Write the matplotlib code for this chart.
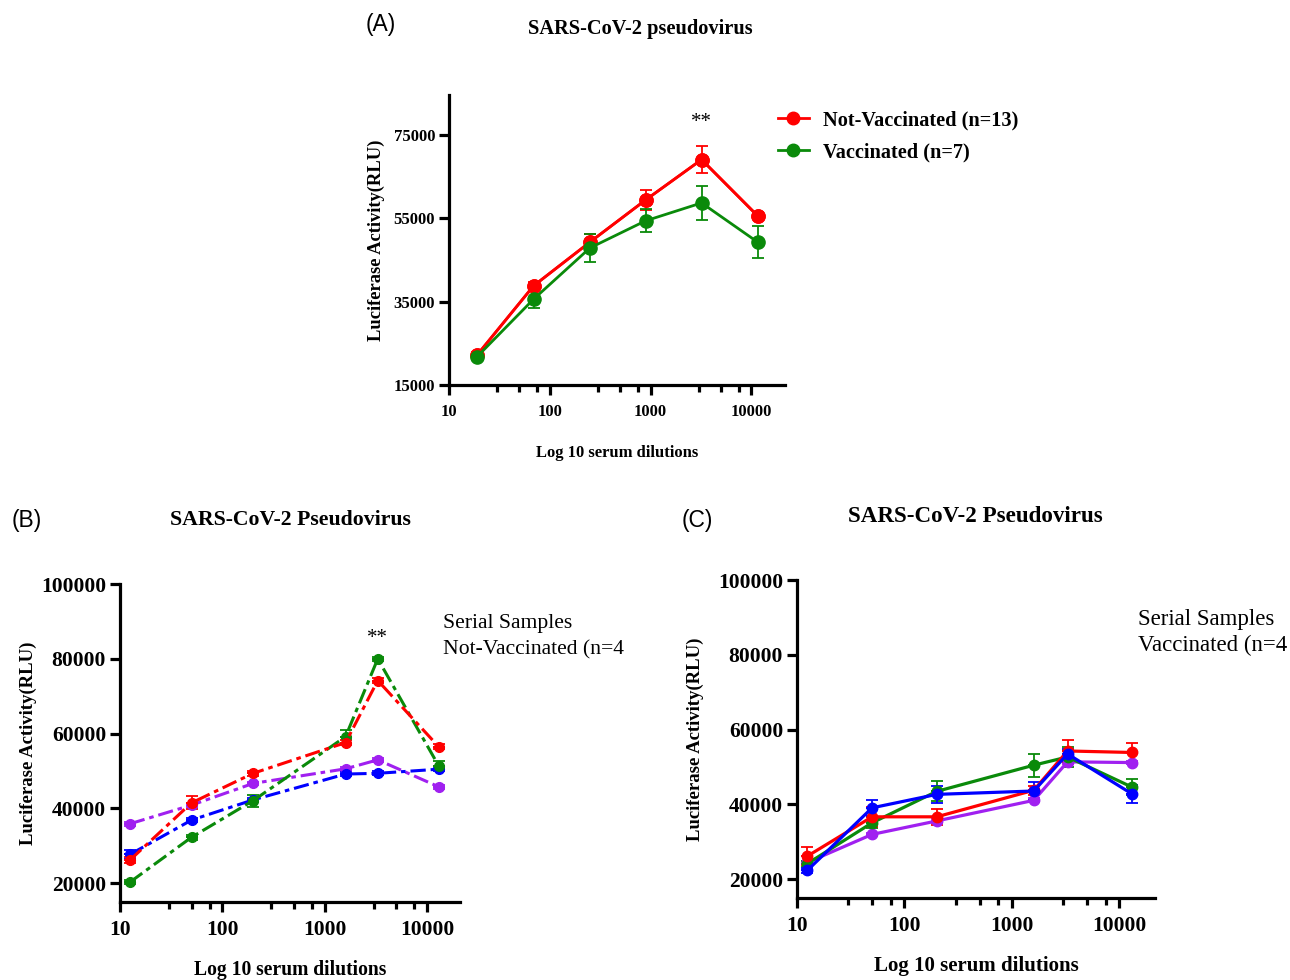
import matplotlib
matplotlib.use("Agg")
import matplotlib.pyplot as plt
from matplotlib.ticker import FixedLocator, NullFormatter, FuncFormatter
from matplotlib.lines import Line2D

SERIF = ["Liberation Serif", "DejaVu Serif"]
SANS = ["Liberation Sans", "DejaVu Sans"]

# ---------------- Data ----------------
# Panel A
a_x = [19, 69, 250, 890, 3200, 11500]
a_notvacc = [22200, 38800, 49300, 59400, 69100, 55600]
a_notvacc_err = [700, 900, 1900, 2400, 3300, 800]
a_vacc = [21800, 35600, 47900, 54400, 58700, 49300]
a_vacc_err = [600, 2100, 3300, 2800, 4100, 3800]

# Panel B (serial samples, not vaccinated)
b_x = [12.5, 50, 200, 1600, 3300, 13000]
b_red = [26200, 41500, 49400, 57600, 74200, 56500]
b_red_err = [700, 1700, 600, 600, 700, 600]
b_green = [20300, 32300, 42100, 59200, 80000, 51400]
b_green_err = [500, 600, 1600, 1800, 600, 1200]
b_purple = [35900, 40900, 46700, 50600, 53000, 45800]
b_purple_err = [500, 500, 500, 500, 500, 500]
b_blue = [27700, 36900, 42300, 49200, 49400, 50500]
b_blue_err = [1300, 600, 600, 600, 500, 600]

# Panel C (serial samples, vaccinated)
c_x = [12.5, 50, 200, 1600, 3300, 13000]
c_red = [26200, 36700, 36700, 43800, 54300, 53900]
c_red_err = [2400, 2600, 2200, 1200, 3000, 2500]
c_green = [24200, 35100, 43500, 50500, 52700, 44700]
c_green_err = [800, 1500, 2700, 3100, 2700, 2200]
c_purple = [24500, 32000, 35600, 41100, 51400, 51200]
c_purple_err = [500, 500, 500, 500, 500, 500]
c_blue = [22400, 39100, 42700, 43600, 53500, 42900]
c_blue_err = [700, 2100, 2200, 2300, 1300, 2400]

a_yticks = [15000, 35000, 55000, 75000]
bc_yticks = [20000, 40000, 60000, 80000, 100000]
x_major = [10, 100, 1000, 10000]
x_minor = [30, 50, 75, 300, 500, 750, 3000, 5000, 7500]

W, H = 1290, 980
fig = plt.figure(figsize=(W / 100, H / 100), dpi=100)


def add_ax(l, t, r, b):
    return fig.add_axes([l / W, 1 - b / H, (r - l) / W, (b - t) / H])


def style_ax(ax, tick_fs, ylim, yticks, xlim, xpad=6):
    ax.set_xscale("log")
    ax.set_xlim(*xlim)
    ax.set_ylim(*ylim)
    ax.set_yticks(yticks)
    ax.xaxis.set_major_locator(FixedLocator(x_major))
    ax.xaxis.set_minor_locator(FixedLocator(x_minor))
    ax.xaxis.set_minor_formatter(NullFormatter())
    ax.xaxis.set_major_formatter(FuncFormatter(lambda v, p: f"{int(round(v))}"))
    for s in ["top", "right"]:
        ax.spines[s].set_visible(False)
    for s in ["left", "bottom"]:
        ax.spines[s].set_linewidth(2.3)
    ax.tick_params(which="major", length=7, width=2.3, labelsize=tick_fs, pad=3)
    ax.tick_params(axis="x", which="major", pad=xpad)
    ax.tick_params(which="minor", length=5, width=2.3)
    for lab in ax.get_xticklabels() + ax.get_yticklabels():
        lab.set_fontfamily(SERIF)
        lab.set_fontweight("bold")


def series(ax, x, y, err, color, ls="-", ms=7, lw=2.0):
    ax.errorbar(x, y, yerr=[[0] * len(err), err], color=color, linestyle=ls,
                marker="o", markersize=ms, linewidth=lw, elinewidth=1.3,
                capsize=4, capthick=1.3, clip_on=False)
    ax.errorbar(x, y, yerr=[err, [0] * len(err)], color=color, linestyle="none",
                marker="none", elinewidth=1.3, capsize=4, capthick=1.3)


# ---------------- Panel A ----------------
axA = add_ax(449, 95, 785, 385)
series(axA, a_x, a_notvacc, a_notvacc_err, "#ff0000", ms=9.5, lw=2.0)
series(axA, a_x, a_vacc, a_vacc_err, "#0a8a0a", ms=9.5, lw=2.0)
axA.plot(a_x, a_notvacc, color="#ff0000", marker="o", markersize=9.5, linewidth=2.0)
style_ax(axA, 12, (15000, 84600), a_yticks, (10, 21500), xpad=7)
axA.set_ylabel("Luciferase Activity(RLU)", fontfamily=SERIF, fontweight="bold", fontsize=13.3, labelpad=6)
axA.set_xlabel("Log 10 serum dilutions", fontfamily=SERIF, fontweight="bold", fontsize=12, labelpad=18)
axA.text(3200, 78000, "**", ha="center", va="center", fontsize=15, fontfamily=SERIF)
h1 = Line2D([], [], color="#ff0000", marker="o", markersize=9, linewidth=2)
h2 = Line2D([], [], color="#0a8a0a", marker="o", markersize=9, linewidth=2)
fig.legend([h1, h2], ["Not-Vaccinated (n=13)", "Vaccinated (n=7)"],
           loc="upper left", bbox_to_anchor=(760 / W, 1 - 92 / H), frameon=False,
           prop={"family": SERIF, "weight": "bold", "size": 14.6}, handlelength=1.5,
           labelspacing=0.6, handletextpad=0.7)

fig.text(381 / W, 1 - 25 / H, "(A)", fontfamily=SANS, fontsize=16.5, ha="center", va="center")
fig.text(640 / W, 1 - 29 / H, "SARS-CoV-2 pseudovirus", fontfamily=SERIF, fontweight="bold",
         fontsize=14.7, ha="center", va="center")

# ---------------- Panel B ----------------
dd = (0, (5, 1.6, 1.5, 1.6))
axB = add_ax(120, 584, 460, 902)
series(axB, b_x, b_purple, b_purple_err, "#a020f0", ls=dd, ms=7, lw=2.2)
series(axB, b_x, b_blue, b_blue_err, "#0000ff", ls=dd, ms=7, lw=2.2)
series(axB, b_x, b_green, b_green_err, "#0a8a0a", ls=dd, ms=7, lw=2.2)
series(axB, b_x, b_red, b_red_err, "#ff0000", ls=dd, ms=7, lw=2.2)
style_ax(axB, 15.5, (15000, 100000), bc_yticks, (10, 21000))
axB.set_ylabel("Luciferase Activity(RLU)", fontfamily=SERIF, fontweight="bold", fontsize=13.5, labelpad=3)
axB.set_xlabel("Log 10 serum dilutions", fontfamily=SERIF, fontweight="bold", fontsize=14.1, labelpad=14)
axB.text(3300, 85500, "**", ha="center", va="center", fontsize=15, fontfamily=SERIF)
fig.text(443 / W, 1 - 637 / H, "Serial Samples\nNot-Vaccinated (n=4", fontfamily=SERIF,
         fontsize=15.6, ha="left", va="center", linespacing=1.5)
fig.text(27 / W, 1 - 520 / H, "(B)", fontfamily=SANS, fontsize=16.5, ha="center", va="center")
fig.text(290 / W, 1 - 520 / H, "SARS-CoV-2 Pseudovirus", fontfamily=SERIF, fontweight="bold",
         fontsize=15.7, ha="center", va="center")

# ---------------- Panel C ----------------
axC = add_ax(797, 580, 1155, 898)
series(axC, c_x, c_purple, c_purple_err, "#a020f0", ms=7.5, lw=2.3)
series(axC, c_x, c_green, c_green_err, "#0a8a0a", ms=7.5, lw=2.3)
series(axC, c_x, c_red, c_red_err, "#ff0000", ms=7.5, lw=2.3)
series(axC, c_x, c_blue, c_blue_err, "#0000ff", ms=7.5, lw=2.3)
style_ax(axC, 15.5, (15000, 100000), bc_yticks, (10, 21500))
axC.set_ylabel("Luciferase Activity(RLU)", fontfamily=SERIF, fontweight="bold", fontsize=13.5, labelpad=10)
axC.set_xlabel("Log 10 serum dilutions", fontfamily=SERIF, fontweight="bold", fontsize=15, labelpad=14)
fig.text(1138 / W, 1 - 632.5 / H, "Serial Samples\nVaccinated (n=4", fontfamily=SERIF,
         fontsize=16.5, ha="left", va="center", linespacing=1.35)
fig.text(697 / W, 1 - 520 / H, "(C)", fontfamily=SANS, fontsize=16.5, ha="center", va="center")
fig.text(975 / W, 1 - 516 / H, "SARS-CoV-2 Pseudovirus", fontfamily=SERIF, fontweight="bold",
         fontsize=16.6, ha="center", va="center")

fig.savefig("out.png", dpi=100)
